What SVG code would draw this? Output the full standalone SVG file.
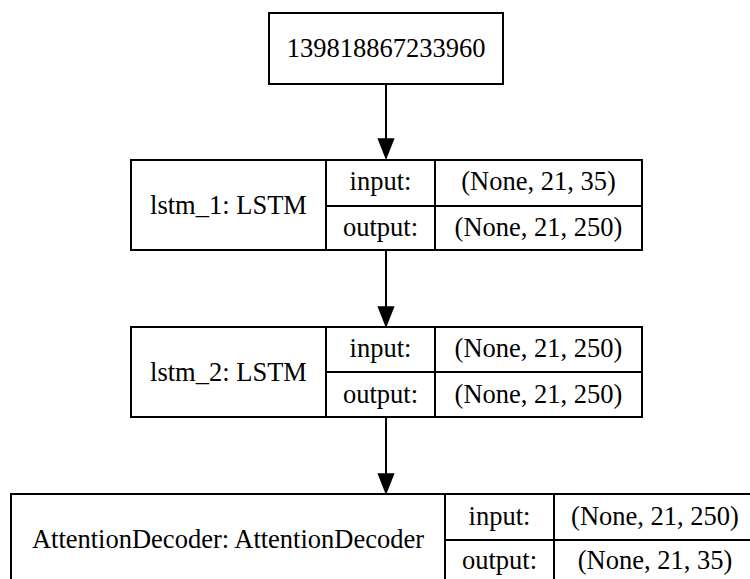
<svg xmlns="http://www.w3.org/2000/svg" width="750" height="579" viewBox="0 0 750 579" font-family="'Liberation Serif', 'Times New Roman', Times, serif">
  <style>
    .box { fill: #ffffff; stroke: #000000; stroke-width: 2; }
    .div { stroke: #000000; stroke-width: 2; fill: none; }
    .edge { stroke: #000000; stroke-width: 2; fill: none; }
    .head { fill: #000000; stroke: #000000; stroke-width: 1.5; }
    .lbl { font-family: 'Liberation Serif', 'Times New Roman', Times, serif; font-size: 26.5px; fill: #000000; text-anchor: middle; }
  </style>
  <rect width="750" height="579" fill="#ffffff"/>

  <!-- input node -->
  <g id="node_input">
    <rect class="box" x="269" y="13" width="234" height="71"/>
    <text class="lbl" x="386" y="57">139818867233960</text>
  </g>

  <!-- lstm_1 record -->
  <g id="node_lstm_1">
    <rect class="box" x="131" y="160" width="511" height="90"/>
    <line class="div" x1="326" y1="160" x2="326" y2="250"/>
    <line class="div" x1="435" y1="160" x2="435" y2="250"/>
    <line class="div" x1="326" y1="206" x2="642" y2="206"/>
    <text class="lbl" x="228.5" y="214">lstm_1: LSTM</text>
    <text class="lbl" x="380.5" y="190">input:</text>
    <text class="lbl" x="380.5" y="236">output:</text>
    <text class="lbl" x="538.5" y="190">(None, 21, 35)</text>
    <text class="lbl" x="538.5" y="236">(None, 21, 250)</text>
  </g>

  <!-- lstm_2 record -->
  <g id="node_lstm_2">
    <rect class="box" x="131" y="327" width="511" height="90"/>
    <line class="div" x1="326" y1="327" x2="326" y2="417"/>
    <line class="div" x1="435" y1="327" x2="435" y2="417"/>
    <line class="div" x1="326" y1="372" x2="642" y2="372"/>
    <text class="lbl" x="228.5" y="381">lstm_2: LSTM</text>
    <text class="lbl" x="380.5" y="357">input:</text>
    <text class="lbl" x="380.5" y="403">output:</text>
    <text class="lbl" x="538.5" y="357">(None, 21, 250)</text>
    <text class="lbl" x="538.5" y="403">(None, 21, 250)</text>
  </g>

  <!-- AttentionDecoder record -->
  <g id="node_attention">
    <rect class="box" x="11" y="494" width="745" height="92"/>
    <line class="div" x1="445" y1="494" x2="445" y2="586"/>
    <line class="div" x1="554" y1="494" x2="554" y2="586"/>
    <line class="div" x1="445" y1="540" x2="756" y2="540"/>
    <text class="lbl" x="228" y="548">AttentionDecoder: AttentionDecoder</text>
    <text class="lbl" x="499.5" y="525">input:</text>
    <text class="lbl" x="499.5" y="569">output:</text>
    <text class="lbl" x="655" y="525">(None, 21, 250)</text>
    <text class="lbl" x="655" y="569">(None, 21, 35)</text>
  </g>

  <!-- edges -->
  <g id="connectors">
    <line class="edge" x1="386" y1="84" x2="386" y2="140"/>
    <polygon class="head" points="378.5,139 393.5,139 386,158"/>
    <line class="edge" x1="386" y1="250" x2="386" y2="308"/>
    <polygon class="head" points="378.5,307 393.5,307 386,326"/>
    <line class="edge" x1="386" y1="417" x2="386" y2="475"/>
    <polygon class="head" points="378.5,474 393.5,474 386,493"/>
  </g>
</svg>
